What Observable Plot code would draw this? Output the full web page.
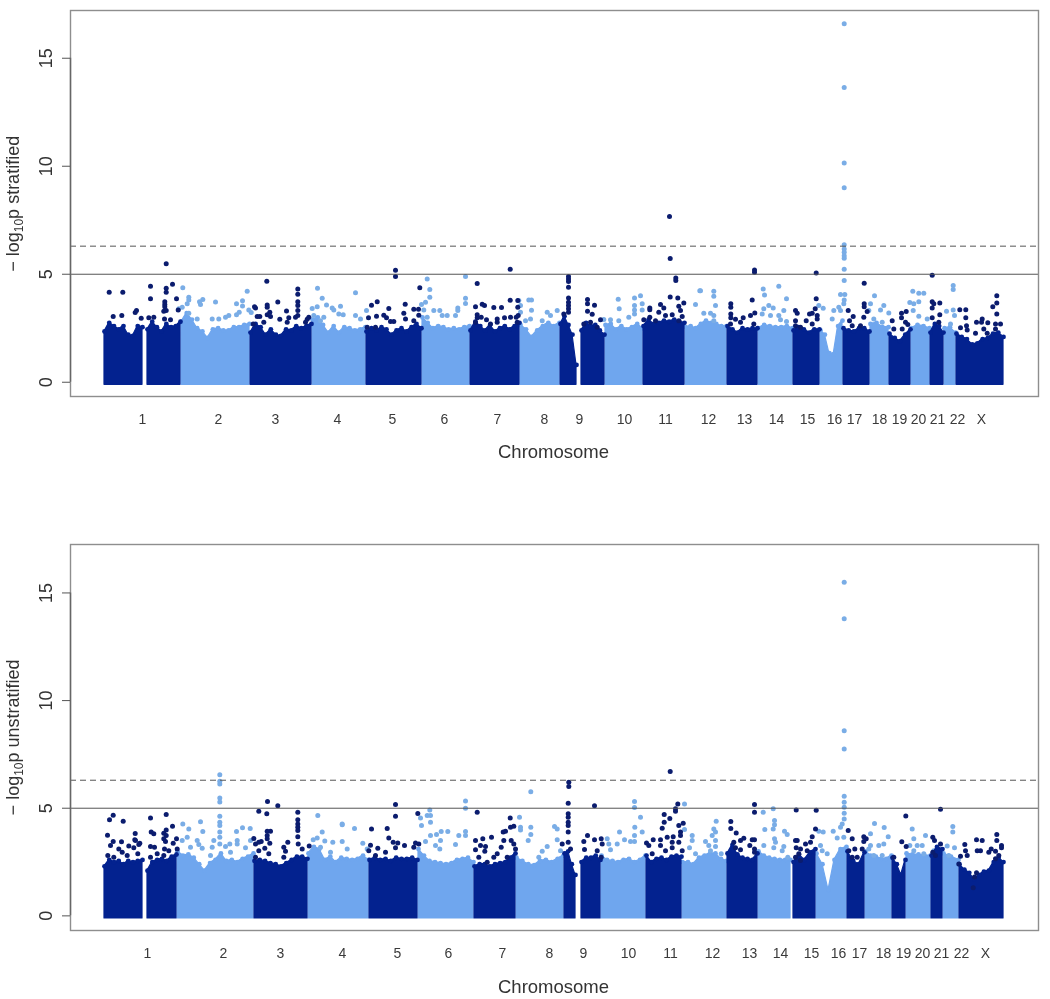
<!DOCTYPE html>
<html><head><meta charset="utf-8">
<script src="https://cdn.jsdelivr.net/npm/d3@7"></script>
<script src="https://cdn.jsdelivr.net/npm/@observablehq/plot@0.6"></script>
<style>html,body{margin:0;padding:0;background:#fff}svg{display:block}#chart{width:1050px;filter:blur(.45px)}</style>
</head><body><div id="chart"></div>
<script>
const chromNames = ["1","2","3","4","5","6","7","8","9","10","11","12","13","14","15","16","17","18","19","20","21","22","X"];
const yTicks = [0,5,10,15];
const suggestiveLine = 5, genomeWideLine = 6.3;

// Chromosome label positions along the genome axis
const labelPos1 = [39,115,172,234,289,341,394,441,476,521,562,605,641,673,704,731,751,776,796,815,834,854,878];
const labelPos2 = [44,120,177,239,294,345,399,446,480,525,567,609,646,677,708,735,756,780,800,819,838,858,882];

// Contiguous blocks: start/end on the genome axis, dark flag, and the upper envelope of the dense cloud
const blocks1 = [
 ["1",1,39,1,[2.35,2.75,2.6,2.45,2.6,2.2,2.15,2.6,2.55]],
 ["1",44,77,1,[2.45,2.8,2.55,2.35,2.7,2.55,2.6,2.8]],
 ["2",78,146,0,[2.8,3.2,2.9,2.5,2.35,2.05,2.45,2.5,2.4,2.4,2.55,2.55,2.65,2.7]],
 ["3",147,208,1,[2.3,2.7,2.55,2.2,2.45,2.2,2.15,2.45,2.4,2.6,2.5,2.6,2.7]],
 ["4",209,262,0,[2.9,3.0,2.65,2.3,2.6,2.3,2.55,2.5,2.4,2.45,2.55]],
 ["5",263,318,1,[2.35,2.5,2.4,2.55,2.45,2.2,2.4,2.5,2.35,2.55,2.7,2.5]],
 ["6",319,366,0,[3.0,2.75,2.5,2.6,2.55,2.45,2.5,2.45,2.55,2.6]],
 ["7",367,416,1,[2.4,2.8,2.6,2.4,2.65,2.35,2.5,2.6,2.45,2.6,2.75]],
 ["8",417,456,0,[2.65,2.45,2.1,2.4,2.6,2.75,2.6,2.75]],
 ["9",457,473,1,[2.7,3.05,2.65,2.2,0.8]],
 ["9",478,501,1,[2.4,2.75,2.6,2.65,2.4,2.2]],
 ["10",502,539,0,[2.65,2.7,2.45,2.6,2.45,2.55,2.7,2.5]],
 ["11",540,581,1,[2.6,2.9,2.7,2.75,2.85,2.8,2.9,2.8,2.75]],
 ["12",582,623,0,[2.55,2.6,2.5,2.7,2.85,2.75,2.7,2.6,2.6]],
 ["13",624,654,1,[2.6,2.45,2.3,2.5,2.45,2.5,2.5]],
 ["14",655,689,0,[2.5,2.65,2.6,2.55,2.55,2.6,2.5]],
 ["15",690,716,1,[2.4,2.55,2.45,2.3,2.45,2.45]],
 ["16",717,739,0,[2.4,2.2,1.35,1.3,2.6,2.85]],
 ["17",740,766,1,[2.5,2.4,2.35,2.5,2.5,2.35]],
 ["18",767,785,0,[2.7,2.75,2.55,2.55]],
 ["19",786,807,1,[2.25,2.05,1.9,2.2,2.45]],
 ["20",808,826,0,[2.5,2.65,2.6,2.5]],
 ["21",827,840,1,[2.3,2.7,2.6,2.3]],
 ["22",841,852,0,[2.5,2.55,2.3]],
 ["X",853,900,1,[2.25,2.1,2.0,1.75,1.8,2.0,2.05,2.25,2.3,2.1]]
];
const blocks2 = [
 ["1",1,39,1,[2.3,2.6,2.5,2.55,2.4,2.55,2.5,2.55,2.6]],
 ["1",44,73,1,[2.1,2.5,2.6,2.65,2.55,2.75,2.85]],
 ["2",74,150,0,[3.0,2.8,2.85,2.7,2.4,2.1,2.45,2.6,2.9,2.55,2.6,2.5,2.65,2.75,2.9]],
 ["3",151,204,1,[2.55,2.6,2.55,2.45,2.4,2.3,2.45,2.6,2.75,2.75,2.65]],
 ["4",205,265,0,[2.9,3.2,3.1,2.6,2.75,2.5,2.7,2.65,2.6,2.65,2.8,2.6]],
 ["5",266,314,1,[2.6,2.7,2.6,2.65,2.55,2.7,2.65,2.65,2.7,2.6]],
 ["6",315,370,0,[3.1,2.8,2.55,2.5,2.45,2.4,2.45,2.6,2.65,2.7,2.5]],
 ["7",371,412,1,[2.3,2.4,2.4,2.3,2.4,2.45,2.5,2.7,2.9]],
 ["8",413,460,0,[2.7,2.55,2.4,2.35,2.55,2.6,2.5,2.65,2.8]],
 ["9",461,472,1,[2.9,3.0,2.4,1.9]],
 ["9",478,497,1,[2.5,2.7,2.7,2.8,2.6]],
 ["10",498,542,0,[2.8,2.6,2.55,2.5,2.6,2.65,2.5,2.6,2.8]],
 ["11",543,578,1,[2.8,2.5,2.65,2.7,2.6,2.75,2.8,2.75]],
 ["12",579,623,0,[2.5,2.5,2.4,2.7,2.8,2.9,2.9,2.65,2.55]],
 ["13",624,654,1,[2.9,3.3,2.85,2.7,2.65,2.6,2.9]],
 ["14",655,687,0,[3.0,2.8,2.7,2.65,2.6,2.6,2.6]],
 ["15",690,712,1,[2.5,2.85,2.6,2.95,3.1]],
 ["16",713,743,0,[2.9,2.4,1.2,2.6,3.1,3.2]],
 ["17",744,761,1,[3.0,2.55,2.4,2.95]],
 ["18",762,788,0,[3.0,2.8,2.75,2.65,2.65,2.8]],
 ["19",789,802,1,[2.7,2.4,1.9,2.6]],
 ["20",803,827,0,[2.9,2.85,2.85,2.8,2.8]],
 ["21",828,839,1,[2.8,3.2,3.1]],
 ["22",840,855,0,[2.9,2.75,2.6]],
 ["X",856,900,1,[2.4,2.15,2.0,1.7,1.9,2.05,2.1,2.5,2.7,2.5]]
];

// Individual SNPs above the cloud: [genome position, -log10 p]
const darkHits1 = [[5.7,4.17],[19.3,4.17],[47,4.44],[47,3.86],[62.7,5.48],[62.7,4.35],[62.7,4.17],[69,4.54],[73,3.86],[74.7,3.35],[61.3,3.73],[61.3,3.6],[61.3,3.5],[60.3,3.29],[62.7,3.32],[33,3.32],[31.7,3.23],[37.7,2.96],[9.7,3.04],[18.3,3.09],[45.3,2.99],[50.3,3.01],[61,2.93],[67,2.89],
[163.3,4.68],[194.3,4.32],[194.3,4.07],[194.3,3.73],[194.3,3.55],[194.3,3.32],[194.3,3.09],[174.3,3.72],[163.7,3.58],[163.7,3.47],[151,3.5],[152,3.44],[183,3.3],[166.3,3.24],[163.7,3.12],[167,3.04],[153.7,3.04],[156.3,3.04],[176.3,2.92],[185.3,2.98],[192,3.01],[205.3,3.01],[203.7,2.92],[202,2.78],[149.7,2.7],[160.3,2.78],[183.7,2.78],
[292,5.19],[292,4.89],[316.3,4.37],[273.7,3.73],[268,3.56],[301.7,3.61],[285.3,3.41],[273,3.06],[265,2.98],[310.3,3.38],[315,3.38],[315.3,3.1],[280.3,3.1],[283,2.98],[300.3,3.19],[302,2.93],[287,2.81],[290.3,2.81],[310.3,2.85],[263.7,2.55],[272,2.55],
[406.7,5.23],[373.7,4.57],[406.7,3.8],[372,3.5],[378.7,3.61],[381,3.55],[390.3,3.46],[398,3.46],[414.3,3.78],[414.3,3.47],[373.7,3.13],[373.7,2.98],[377.7,3.01],[372,2.78],[383,2.89],[393.7,2.93],[393.7,2.78],[401,2.98],[407,3.01],[412.7,3.01],[414.7,3.09],[413.7,2.78],[387,2.7],
[465,4.89],[465,4.78],[465,4.66],[465,4.4],[465,3.9],[465,3.7],[465,3.55],[465,3.4],[465,3.24],[460.3,3.16],[484,3.83],[484,3.63],[491,3.56],[484,3.29],[488.7,3.15],[497,2.89],[480.3,2.7],[487,2.78],[493.7,2.55],
[566,7.67],[566.7,5.73],[572.3,4.83],[572.3,4.71],[566.7,3.95],[574.3,3.9],[580.3,3.67],[557,3.6],[546.3,3.44],[546.3,3.36],[560.3,3.44],[575.3,3.52],[577,3.32],[555.3,3.24],[546.3,3.01],[562,3.09],[568.7,3.12],[578.7,3.04],[540.3,2.89],[552,2.85],[575.3,2.85],
[651,5.2],[651,5.09],[648.7,3.81],[627.3,3.63],[627.3,3.47],[627.3,3.16],[627.3,2.98],[632,2.92],[639.7,2.98],[647,3.09],[651.3,3.21],[637,2.78],[627,2.7],[650.3,2.7],
[712.7,5.06],[712.7,3.86],[692,3.32],[693.7,3.19],[711.7,3.4],[706,3.16],[708.7,3.19],[713.7,3.09],[713.7,2.93],[692,2.85],[692,2.62],[702.7,2.85],[708.7,2.7],[697,2.55],
[760.7,4.58],[760.7,3.63],[760.7,3.5],[744.7,3.32],[749.7,3.04],[763.7,3.27],[760.3,3.01],[746,2.85],[748.7,2.62],[757,2.62],
[788.7,2.85],[790.3,2.47],[798,3.19],[802.7,3.27],[798,2.98],[802,2.78],[804.3,2.67],[798.7,2.47],
[828.7,4.95],[828.7,3.73],[828.7,3.44],[830.3,3.63],[836.3,3.67],[836.3,3.13],[828.7,2.99],[835.3,2.78],
[893.3,4.0],[893.3,3.67],[889.3,3.5],[893.3,3.16],[856.3,3.36],[862.3,3.36],[862.3,2.98],[857,2.52],[863,2.62],[863.7,2.42],[873,2.78],[878.7,2.93],[878,2.78],[884.3,2.75],[892,2.7],[897,2.7],[872,2.27],[880.3,2.47],[883.7,2.27],[892,2.47]];
const lightHits1 = [[79.3,4.37],[85.3,3.94],[85.3,3.81],[99.3,3.83],[96,3.73],[97,3.6],[112,3.72],[143.7,4.21],[139,3.77],[133,3.63],[139,3.53],[145.3,3.35],[147.7,3.23],[83.7,3.63],[78.7,3.47],[75.3,3.4],[135.7,3.24],[133,3.13],[125.3,3.09],[122,3.01],[115.3,2.93],[108.7,2.93],[93.7,2.93],[85.3,3.19],
[214,4.35],[218.7,3.89],[223,3.58],[228.7,3.44],[237,3.52],[213.7,3.5],[208.7,3.41],[230.3,3.35],[235.3,3.16],[239.7,3.13],[220.3,3.01],[210.3,3.09],[217,2.85],
[252,4.14],[323.7,4.78],[362,4.89],[326.3,4.29],[326.3,3.94],[322,3.7],[318,3.6],[362,3.89],[362,3.64],[263,3.32],[252,3.09],[257,2.93],[320.3,3.35],[330.3,3.32],[336.3,3.32],[354.3,3.44],[354.3,3.32],[343.7,3.09],[338.7,3.09],[352,3.09],[323.7,3.01],[415.3,3.78],[425.3,3.81],[428,3.81],[417,3.55],[417,3.24],[428,3.33],[427,2.93],[422,2.85],[443.7,3.24],[453.7,3.32],[447,3.09],[438.7,2.85],[514.7,3.84],[515.7,3.4],[531,3.9],[537,4.01],[531,3.55],[531,3.35],[531,3.16],[538.7,3.63],[538.7,3.35],[525.3,3.01],[507,2.89],[500.3,2.9],[515.3,2.85],[596.3,4.24],[592,3.6],
[740.7,16.6],[740.7,13.65],[740.7,10.15],[740.7,9.0],[740.7,6.37],[740.7,6.17],[740.7,6.02],[740.7,5.86],[740.7,5.74],[740.7,5.23],[740.7,4.71],[737,4.06],[741.3,4.06],[740.7,3.81],[740.3,3.63],[735.3,3.47],[730.3,3.32],[737,3.32],[728.7,2.93],
[610.3,4.21],[610.3,3.98],[612,3.55],[607,3.19],[610.3,3.09],[600.3,3.19],[610.3,2.85],[597,4.24],[659.7,4.32],[661,4.04],[675.3,4.44],[683,3.87],[665.3,3.55],[669.7,3.44],[660.3,3.4],[680.3,3.32],[675.3,3.09],[658.7,3.16],[667,3.09],[677,2.89],[683,2.81],[715.3,3.55],[719.7,3.43],
[771,4.0],[767,3.63],[765.3,3.32],[780.3,3.55],[777,3.35],[785.3,3.21],[770.3,2.93],[778.7,2.78],[809.3,4.21],[815.3,4.12],[820.3,4.12],[806.3,3.69],[815.3,3.73],[810.3,3.63],[809.7,3.32],[815.3,3.06],[823.7,2.93],[849.7,4.48],[849.7,4.29],[843,3.29],[849.7,3.35],[851,3.09],[847,2.7]];
const darkHits2 = [[9.7,4.67],[6,4.47],[19.7,4.4],[4,3.75],[47,4.54],[62.7,4.71],[69,4.16],[73,3.58],[47.7,3.9],[50.3,3.81],[31.7,3.82],[31.3,3.54],[32,3.5],[36.3,3.37],[35.3,3.31],[9.7,3.45],[7,3.27],[18,3.44],[25.3,3.25],[15.3,3.11],[30.3,3.16],[34.3,2.88],[18.7,2.96],[4.3,2.8],[10.3,2.72],[23.7,2.8],[62.7,3.99],[60.3,3.84],[62.7,3.73],[60.3,3.58],[62,3.45],[69.7,3.37],[47,3.22],[51,3.19],[61,3.11],[65.3,3.03],[73.7,3.11],[47,2.72],[53.7,2.88],[60.3,2.8],
[155.3,4.86],[164,5.31],[174.3,5.12],[163.3,4.74],[194.3,4.81],[194.3,4.47],[194.3,4.27],[194.3,4.12],[194.3,3.96],[194.3,3.68],[150.3,3.59],[157.7,3.45],[152,3.34],[155.3,3.42],[163.7,3.93],[167,3.93],[163.7,3.73],[163.7,3.58],[166.3,3.37],[161.3,3.14],[184.3,3.42],[180.3,3.19],[182,3.0],[205.7,3.24],[194.7,3.34],[198.7,3.11],[155.3,3.03],[165.3,2.88],[180.3,2.72],[152,2.72],
[292,5.17],[292,4.63],[314.3,4.75],[268,4.04],[283.7,4.06],[285.3,3.62],[289.7,3.42],[294.3,3.39],[267,3.28],[274.3,3.14],[301,3.27],[312,3.39],[315.3,3.34],[265.3,3.03],[282,2.96],[292,3.16],[310.3,3.19],[272,2.8],
[373.7,4.81],[406.7,4.54],[399.7,3.89],[402,3.93],[407,4.12],[410.3,4.16],[388,3.65],[372,3.5],[379.3,3.58],[400.3,3.5],[377,3.27],[372,3.07],[382,3.22],[381.3,3.0],[397.7,3.19],[407.7,3.5],[410.3,3.34],[412,3.11],[393.7,2.88],[390.3,2.72],[403.7,2.72],[375.3,2.72],[383.7,2.49],
[465.3,6.21],[465.3,6.01],[464.7,5.23],[464.7,4.74],[464.7,4.58],[464.7,4.35],[464.7,4.2],[464.7,3.89],[464.7,3.42],[458.7,3.34],[467,3.11],[484,3.73],[491,3.53],[480.3,3.45],[497.7,3.58],[498.7,3.34],[481,3.08],[493.7,3.03],[497.7,2.72],[491,5.12],
[566.7,6.7],[574.3,5.2],[572,4.97],[572,4.86],[560.7,4.71],[566.3,4.52],[560.7,4.35],[558.7,4.07],[579.7,4.3],[575.3,4.2],[577,3.89],[577,3.73],[563.7,3.65],[569.7,3.68],[549.7,3.53],[557,3.53],[543,3.39],[545.3,3.27],[575.3,3.42],[568.7,3.42],[557,3.27],[578.7,3.03],[568.7,3.16],[562,3.03],[548.7,2.88],
[651,5.17],[651,4.81],[692.7,4.92],[712.7,4.91],[712,4.04],[627.3,4.38],[627.3,4.06],[632.7,3.85],[640.3,3.61],[637,3.5],[648.7,3.53],[651,3.53],[646.3,3.27],[651,3.11],[630.3,3.42],[632,3.16],[637,3.07],[651,2.96],[692,3.5],[693.7,3.5],[708.7,3.68],[702,3.34],[707,3.42],[692.7,3.16],[697,3.11],[695.3,2.88],[692,2.72],[703.7,3.03],[697,2.57],
[744.7,3.96],[748.7,3.58],[751.3,3.11],[745.3,3.03],[753.7,2.72],[760.3,3.68],[762.7,3.58],[760.3,3.45],[758.7,3.11],[748.7,2.72],[802.3,4.64],[798.3,3.44],[802.7,3.22],[790.3,2.72],[837,4.95],[829.3,3.65],[831,3.5],[837,3.34],[829.3,2.96],[832,2.8],
[893.3,3.78],[893.3,3.5],[861.3,3.31],[873,3.54],[878.7,3.5],[862,3.03],[857,2.77],[863.7,2.8],[873.7,3.03],[877,3.03],[887.7,3.11],[892,3.0],[898,3.27],[898,3.16],[885.3,2.96],[895.3,2.8],[892,2.65],[855.3,2.41],[873,2.0],[871,1.8],[869.7,1.3]];
const lightHits2 = [[116.3,6.56],[116.3,6.25],[116.3,6.13],[116.3,5.48],[116.3,5.29],[116.3,4.63],[116.3,4.35],[116.3,4.2],[116.3,3.89],[116.3,3.65],[116.3,3.34],[79.3,4.27],[85.3,4.04],[97,4.37],[99.3,3.92],[133,3.92],[139,4.09],[146.7,4.06],[83.7,3.65],[78.7,3.5],[93.7,3.5],[95.3,3.31],[87,3.19],[98.7,3.14],[110.3,3.5],[108.7,3.19],[133.7,3.5],[133.7,3.34],[122,3.22],[126.3,3.34],[147,3.5],[142,3.16],[107,2.8],[127,2.96],
[214.3,4.66],[218.7,3.89],[213.7,3.62],[209.7,3.53],[221.3,3.48],[229.3,3.42],[238.7,4.27],[238.7,4.23],[238.7,3.45],[227,2.96],[243.7,3.11],[217,3.19],
[362,5.34],[362,5.0],[326.3,4.92],[317,4.55],[323.7,4.66],[327,4.66],[327,4.35],[318,4.2],[251,4.06],[327,3.73],[333,3.78],[337.7,3.92],[344.3,3.92],[355.3,3.73],[362,3.92],[362,3.73],[322,3.45],[337,3.5],[352,3.31],[332,3.27],[336.3,3.11],[259.3,3.37],[263.7,3.11],[416,4.58],[427.3,5.76],[417,4.12],[417,3.99],[427.3,4.12],[427.3,3.78],[424.7,3.5],[451,4.15],[453.7,4.04],[453.7,3.53],[443.7,3.22],[438.7,3.0],[435.3,2.72],[457,3.03],[531,5.31],[531,5.03],[537,4.58],[531.3,4.12],[538.7,3.89],[516,3.89],[527,3.45],[531,3.45],[531,3.73],[521,3.53],[503.7,3.58],[505.3,3.34],[513.7,3.34],[507,3.07],[581,5.2],[581,4.01],[588.7,3.73],[588.7,3.5],[586,3.16],[592,2.88],
[740.7,15.5],[740.7,13.8],[740.7,8.6],[740.7,7.75],[740.7,5.56],[740.7,5.28],[740.7,5.05],[740.7,4.77],[740.7,4.5],[738.7,4.27],[737,4.12],[729.7,3.93],[715.3,3.93],[719.7,3.9],[733.7,3.62],[740.3,3.65],[717,3.27],[718.7,3.03],[723.7,2.88],
[612.7,4.4],[610.3,4.04],[612,3.89],[608.7,3.73],[602,3.45],[612,3.5],[605.3,3.27],[612,3.22],[607,3.03],[617.7,2.88],[659.7,4.81],[669.7,4.97],[661.3,4.01],[671,4.43],[671,4.23],[669.7,4.04],[681,3.93],[683.7,3.78],[671,3.58],[672,3.42],[660.3,3.27],[680.3,3.22],[678.7,3.03],[670.3,3.16],[684.3,2.72],
[767,3.81],[771,4.29],[780.7,4.1],[784.7,3.68],[780.3,3.34],[775.3,3.27],[767,3.27],[765.3,3.11],[770.3,2.8],[778.7,2.8],[808.7,4.04],[810.3,3.58],[822,3.73],[818.7,3.27],[813.7,3.27],[806.3,3.27],[810.3,3.03],[820.3,2.88],[830.3,3.03],[849.3,4.15],[849.3,3.89],[843.7,3.24],[851,3.16],[845.3,2.8]];

const massDark = "#03228f", massLight = "#6fa6ee", dotDark = "#0b1c6e", dotLight = "#7aade6";
const ink = "#333", frameGrey = "#8e8e8e";

function envelopeRows(blocks) {
  const rows = [];
  blocks.forEach(([name, start, end, dark, heights], b) => {
    heights.forEach((h, i) => rows.push({
      block: b, dark, floor: -0.12, h,
      x: start + i * (end - start) / (heights.length - 1)
    }));
  });
  return rows;
}

function panel({blocks, darkHits, lightHits, labelPos, yDomain, ylabel, ylabelAt, xlabelAt, height, marginBottom, tickPad}) {
  const rows = envelopeRows(blocks);
  const nameAt = new Map(labelPos.map((p, i) => [p, chromNames[i]]));
  const area = (flag, fill) => Plot.areaY(rows.filter(r => r.dark === flag), {
    x: "x", y1: "floor", y2: "h", z: "block", fill, stroke: fill, strokeWidth: 1.2, strokeLinejoin: "round"
  });
  const fringe = (flag, fill) => Plot.dot(rows.filter(r => r.dark === flag), {x: "x", y: "h", r: 2.4, fill, stroke: "none"});
  const dots = (arr, fill) => Plot.dot(arr, {x: d => d[0], y: d => d[1], r: 2.5, fill, stroke: "none"});
  const svg = Plot.plot({
    width: 1050, height, marginLeft: 70, marginRight: 12, marginTop: 10, marginBottom,
    style: {fontFamily: "'Liberation Sans', Arial, sans-serif", background: "#fff", color: ink},
    x: {domain: [-33, 935], axis: null},
    y: {domain: yDomain, axis: null},
    marks: [
      area(0, massLight),
      fringe(0, massLight),
      dots(lightHits, dotLight),
      area(1, massDark),
      fringe(1, massDark),
      dots(darkHits, dotDark),
      Plot.ruleY([suggestiveLine], {stroke: "#555", strokeWidth: 1}),
      Plot.ruleY([genomeWideLine], {stroke: "#555", strokeWidth: 1, strokeDasharray: "6,4"}),
      Plot.frame({stroke: frameGrey, strokeWidth: 1.4}),
      Plot.ruleX([-33], {y1: 0, y2: 15, stroke: "#666", strokeWidth: 1.4}),
      Plot.axisY(yTicks, {anchor: "left", tickSize: 8, tickPadding: 11, tickRotate: -90, fontSize: 18, label: null, stroke: "#555", fill: ink}),
      Plot.axisX(labelPos, {anchor: "bottom", tickSize: 0, tickPadding: tickPad, tickFormat: d => nameAt.get(d), fontSize: 14, label: null, fill: "#3a3a3a"}),
      Plot.text([ylabel], {x: () => ylabelAt[0], y: () => ylabelAt[1], rotate: -90, fontSize: 18, fill: ink, text: d => d}),
      Plot.text(["Chromosome"], {x: () => xlabelAt[0], y: () => xlabelAt[1], fontSize: 18.5, fill: ink, text: d => d})
    ]
  });
  // render the "10" of the axis title as a true subscript
  svg.querySelectorAll("text").forEach(t => {
    if (t.textContent.includes("log10p")) {
      const holder = t.querySelector("tspan") || t;
      const [a, b] = holder.textContent.split("10");
      holder.innerHTML = `${a}<tspan dy="4" font-size="12">10</tspan><tspan dy="-4">${b}</tspan>`;
    }
  });
  return svg;
}

const chart = document.getElementById("chart");
chart.append(panel({
  blocks: blocks1, darkHits: darkHits1, lightHits: lightHits1, labelPos: labelPos1,
  yDomain: [-0.66, 17.21], ylabel: "− log10p stratified", ylabelAt: [-90, 8.26], xlabelAt: [450, -3.25],
  height: 534, marginBottom: 138, tickPad: 18
}));
chart.append(panel({
  blocks: blocks2, darkHits: darkHits2, lightHits: lightHits2, labelPos: labelPos2,
  yDomain: [-0.68, 17.25], ylabel: "− log10p unstratified", ylabelAt: [-90, 8.29], xlabelAt: [450, -3.29],
  height: 465, marginBottom: 69, tickPad: 18
}));
</script></body></html>
